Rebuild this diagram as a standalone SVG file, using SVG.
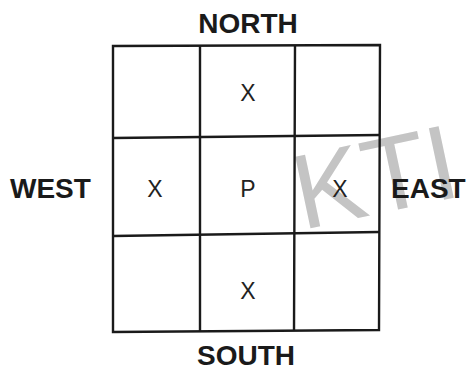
<svg xmlns="http://www.w3.org/2000/svg" width="468" height="371" viewBox="0 0 468 371">
<style>
.g{stroke:#1a1a1a;stroke-width:2.4;fill:none}
.lbl{font-family:"Liberation Sans",Arial,sans-serif;font-weight:bold;font-size:28px;fill:#1a1a1a}
.cell{font-family:"Liberation Sans",Arial,sans-serif;font-size:23px;fill:#222;text-anchor:middle}
.wm{font-family:"Liberation Sans",Arial,sans-serif;font-size:106px;fill:#c4c4c4}
</style>
<rect width="468" height="371" fill="#fff"/>
<text class="wm" x="302" y="230" transform="rotate(-12 302 230)">KTI</text>
<g id="grid">
<path class="g" d="M113,46 L380,45 L379,330 L113,332 Z"/>
<path class="g" d="M200,46 L200,331 M295,45 L294,330"/>
<path class="g" d="M113,138 L380,135 M113,236 L379,232"/>
</g>
<g id="labels">
<text class="lbl" x="248" y="33" text-anchor="middle">NORTH</text>
<text class="lbl" x="10" y="198">WEST</text>
<text class="lbl" x="391" y="198">EAST</text>
<text class="lbl" x="246" y="365" text-anchor="middle">SOUTH</text>
</g>
<g id="cells">
<text class="cell" x="248" y="101">X</text>
<text class="cell" x="155" y="197">X</text>
<text class="cell" x="248" y="197">P</text>
<text class="cell" x="340" y="197">X</text>
<text class="cell" x="248" y="299">X</text>
</g>
</svg>
